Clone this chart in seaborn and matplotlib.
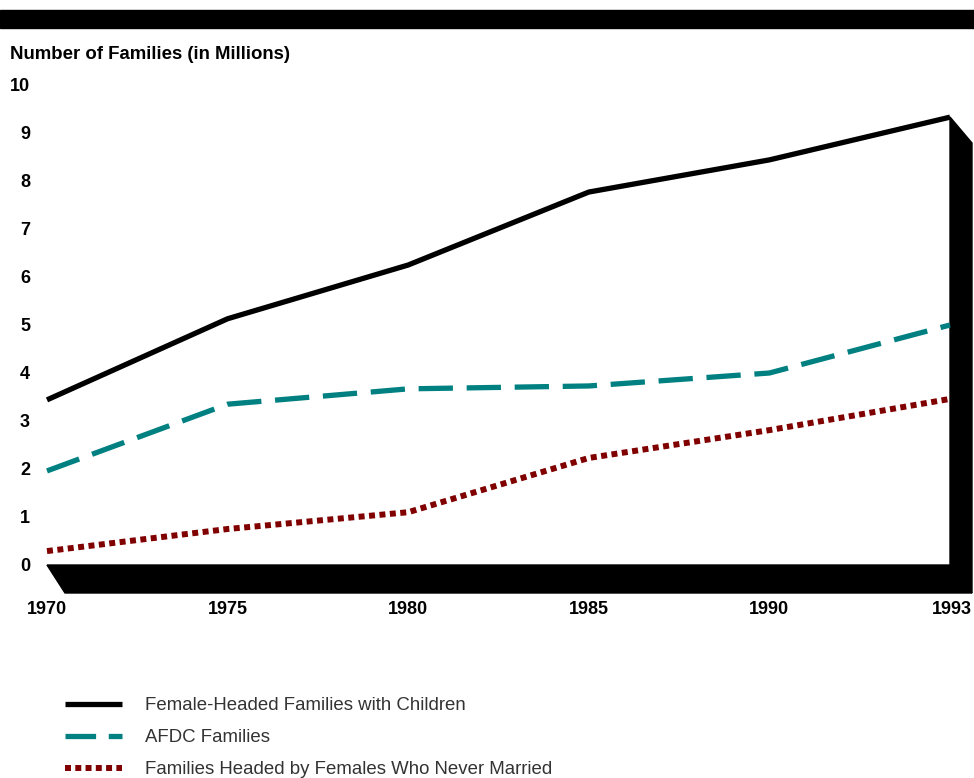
import matplotlib
matplotlib.use("Agg")
import matplotlib.pyplot as plt
import seaborn as sns
import pandas as pd
from matplotlib.patches import Polygon, Rectangle

years = ["1970", "1975", "1980", "1985", "1990", "1993"]
female_headed = [3.44, 5.13, 6.25, 7.77, 8.44, 9.33]
afdc = [1.96, 3.35, 3.67, 3.73, 4.00, 5.00]
never_married = [0.29, 0.75, 1.10, 2.23, 2.81, 3.46]
y_ticks = [0, 1, 2, 3, 4, 5, 6, 7, 8, 9, 10]

series_names = [
    "Female-Headed Families with Children",
    "AFDC Families",
    "Families Headed by Females Who Never Married",
]

sns.set_theme(style="white")
plt.rcParams["font.family"] = ["Liberation Sans", "DejaVu Sans"]

W, H = 974, 778
fig = plt.figure(figsize=(W / 100, H / 100), dpi=100)

# Pixel-space overlay for the frame decorations
deco = fig.add_axes([0, 0, 1, 1])
deco.set_xlim(0, W)
deco.set_ylim(H, 0)
deco.axis("off")

# Top banner
deco.add_patch(Rectangle((0, 10), W, 18, color="black"))
# Floor slab beneath the zero line
deco.add_patch(Polygon([(47, 565), (950, 565), (972, 593), (65, 593)],
                       closed=True, color="black"))
# Right-hand wall
deco.add_patch(Polygon([(950, 117), (972, 143), (972, 593), (950, 565)],
                       closed=True, color="black"))

# Plot area: x from 47 to 950 px, y from 565 (0) to 85 (10)
x0, x1 = 47, 950
y0, y1 = 565, 85
ax = fig.add_axes([x0 / W, 1 - y0 / H, (x1 - x0) / W, (y0 - y1) / H])
ax.patch.set_alpha(0)

x_pos = list(range(len(years)))
df = pd.DataFrame({
    "x": x_pos * 3,
    "value": female_headed + afdc + never_married,
    "series": [series_names[0]] * 6 + [series_names[1]] * 6 + [series_names[2]] * 6,
})

colors = ["#000000", "#008080", "#800000"]
widths = [3.8, 3.8, 4.3]
dash_specs = [None, (6.5, 2.6), (1.0, 0.75)]

for name, c, lw, ds in zip(series_names, colors, widths, dash_specs):
    sub = df[df["series"] == name]
    sns.lineplot(data=sub, x="x", y="value", ax=ax, color=c, linewidth=lw,
                 legend=False, clip_on=False)
    line = ax.lines[-1]
    if ds is not None:
        line.set_dashes(ds)
    line.set_dash_capstyle("butt")
    line.set_solid_capstyle("butt")
    line.set_solid_joinstyle("miter")

ax.set_xlim(0, 5)
ax.set_ylim(0, 10)
for s in ax.spines.values():
    s.set_visible(False)
ax.set_xlabel("")
ax.set_ylabel("")
ax.set_xticks([])
ax.set_yticks([])

# Y tick labels, right aligned next to the figure edge
for v in y_ticks:
    ypix = y0 - (y0 - y1) * v / 10
    deco.text(30, ypix + 1.5, str(v), ha="right", va="center", fontsize=13,
              fontweight="bold", color="black")

# X tick labels centred under each year
for i, lab in enumerate(years):
    xpix = x0 + (x1 - x0) * i / 5
    if i == len(years) - 1:
        xpix = 952
    deco.text(xpix, 609, lab, ha="center", va="center", fontsize=13,
              fontweight="bold", color="black")

deco.text(10, 54, "Number of Families (in Millions)", ha="left", va="center",
          fontsize=13.4, fontweight="bold", color="black")

# Legend
leg_y = [704, 736, 768]
leg_dashes = [None, (5.8, 2.4), (1.0, 0.72)]
for yy, name, c, lw, ds in zip(leg_y, series_names, colors, widths, leg_dashes):
    ln, = deco.plot([65, 122], [yy, yy], color=c, linewidth=lw)
    if ds is not None:
        ln.set_dashes(ds)
    ln.set_dash_capstyle("butt")
    ln.set_solid_capstyle("butt")
    deco.text(145, yy + 2, name, ha="left", va="center", fontsize=13.4,
              color="#333333")

fig.savefig("out.png", dpi=100)
